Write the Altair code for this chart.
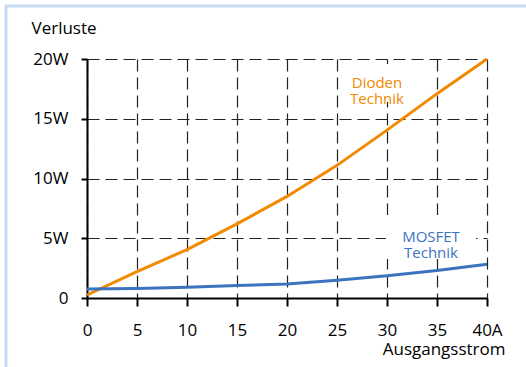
import altair as alt
import pandas as pd

current = [0, 5, 10, 15, 20, 25, 30, 35, 40]
dioden = [0.25, 2.2, 4.05, 6.2, 8.5, 11.1, 14.05, 17.1, 20.0]
mosfet = [0.75, 0.8, 0.9, 1.05, 1.17, 1.48, 1.87, 2.3, 2.82]

series_names = ["Dioden", "MOSFET"]
series_colors = ["#f18a00", "#3b73bf"]

label_text = [["Dioden", "Technik"], ["MOSFET", "Technik"]]
label_x = [29, 34.4]
label_y = [18.0, 5.1]

FONT = "Open Sans"

rows = []
for i, c in enumerate(current):
    rows.append({"I": c, "P": dioden[i], "s": "Dioden"})
    rows.append({"I": c, "P": mosfet[i], "s": "MOSFET"})
df = pd.DataFrame(rows)

lab = pd.DataFrame({"I": label_x, "P": label_y, "t": label_text, "s": series_names})

color = alt.Color("s:N", scale=alt.Scale(domain=series_names, range=series_colors), legend=None)

x = alt.X("I:Q", scale=alt.Scale(domain=[0, 40], nice=False),
          axis=alt.Axis(values=current, title="Ausgangsstrom",
                        labelExpr="datum.value == 40 ? '40A' : datum.label",
                        titleAnchor="start", titleAlign="right", titleX=418, titleY=56,
                        titleBaseline="alphabetic", titleFontWeight="normal"))
y = alt.Y("P:Q", scale=alt.Scale(domain=[0, 20], nice=False),
          axis=alt.Axis(values=[0, 5, 10, 15, 20], title="Verluste",
                        labelExpr="datum.value == 0 ? '0' : datum.value + 'W'",
                        titleAngle=0, titleAlign="left", titleX=-56, titleY=-26,
                        titleBaseline="alphabetic", titleFontWeight="normal"))

lines = alt.Chart(df).mark_line(strokeWidth=3).encode(x=x, y=y, color=color, detail="s:N")

box_d = alt.Chart(lab).transform_filter(alt.datum.s == "Dioden").mark_rect(
    width=72, height=38, color="white").encode(x="I:Q", y="P:Q")
box_m = alt.Chart(lab).transform_filter(alt.datum.s == "MOSFET").mark_rect(
    width=90, height=44, color="white").encode(x="I:Q", y="P:Q")

labels = alt.Chart(lab).mark_text(font=FONT, fontSize=15, lineHeight=16, align="center",
                                  baseline="middle").encode(
    x="I:Q", y="P:Q", text="t", color=color)

frame_v = alt.Chart(alt.Data(values=[{}])).mark_rule(color="#c6daf2", strokeWidth=3).encode(
    x=alt.value(-81), y=alt.value(-53), y2=alt.value(320))
frame_h = alt.Chart(alt.Data(values=[{}])).mark_rule(color="#c6daf2", strokeWidth=3).encode(
    x=alt.value(-82), x2=alt.value(460), y=alt.value(-53))

chart = alt.layer(frame_v, frame_h, box_d, box_m, lines, labels).properties(
    width=400, height=239,
    autosize=alt.AutoSizeParams(type="none"),
    padding={"left": 87, "top": 59, "right": 39, "bottom": 69},
    background="white",
).configure_view(stroke=None).configure_axis(
    domainColor="black", domainWidth=2,
    tickColor="black", tickWidth=2,
    grid=True, gridColor="#222", gridDash=[12, 6], gridWidth=1.2, gridOpacity=1,
    labelFont=FONT, labelFontSize=17, labelColor="black",
    titleFont=FONT, titleFontSize=17, titleColor="black",
).configure_axisX(
    tickSize=8, labelPadding=29, labelBaseline="alphabetic", labelFlush=False,
).configure_axisY(
    tickSize=6, labelPadding=13, labelFlush=False,
)

chart.save("out.html", embed_options={"renderer": "svg", "actions": False})
